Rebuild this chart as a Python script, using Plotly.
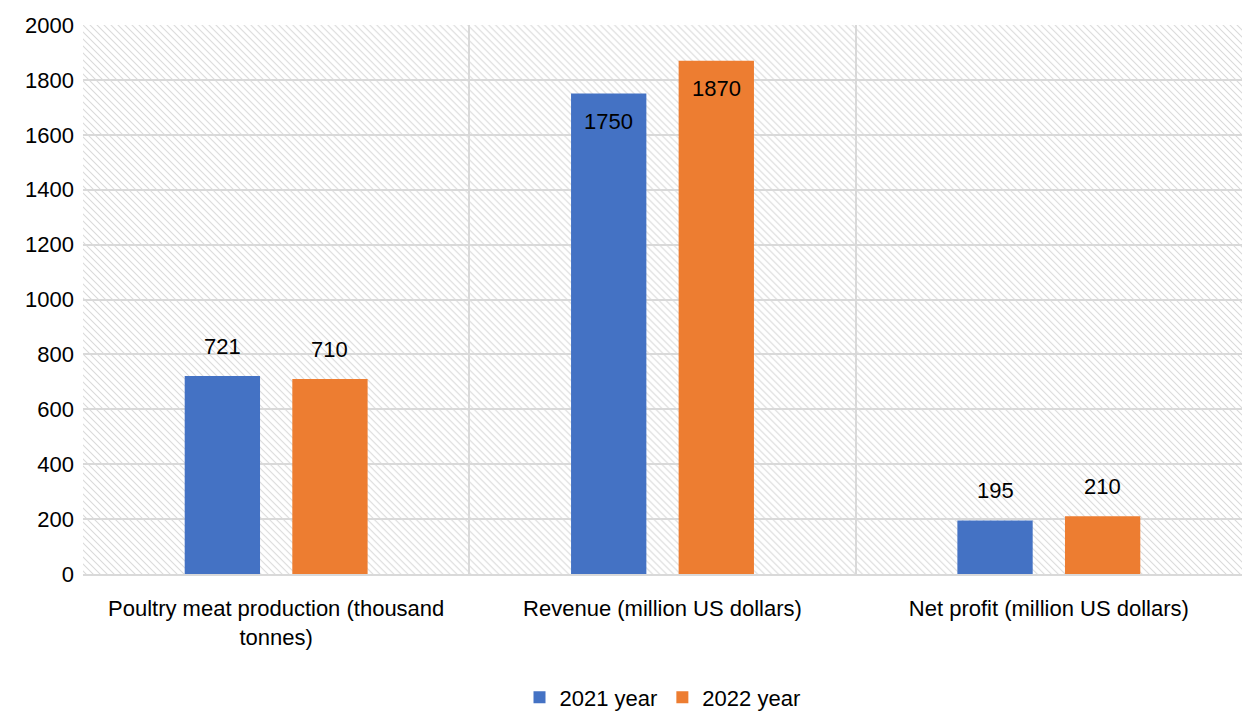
import base64
import plotly.graph_objects as go

categories = ["Poultry meat production (thousand<br>tonnes)",
              "Revenue (million US dollars)",
              "Net profit (million US dollars)"]
series_names = ["2021 year", "2022 year"]
values_2021 = [721, 1750, 195]
values_2022 = [710, 1870, 210]
label_inside_2021 = [False, True, False]
label_inside_2022 = [False, True, False]
y_ticks = list(range(0, 2001, 200))

BLUE = "#4472C4"
ORANGE = "#ED7D31"
GRID = "#d9d9d9"
FONT = "Liberation Sans Narrow, Arial Narrow, Liberation Sans, Arial, sans-serif"
FS = 22

W, H = 1243, 717
ML, MR, MT, MB = 83, 1, 25, 143
BARGAP, BARGROUPGAP = 0.443, 0.30

fig = go.Figure()
for name, vals, col in [(series_names[0], values_2021, BLUE),
                        (series_names[1], values_2022, ORANGE)]:
    fig.add_trace(go.Bar(name=name, x=categories, y=vals, marker_color=col,
                         marker_line_width=0, hoverinfo="x+y+name"))

# value labels, placed relative to each bar
cat_px = (W - ML - MR) / len(categories)
offset_px = (1 - BARGAP) * cat_px / 4
annotations = []
for sign, vals, inside in [(-1, values_2021, label_inside_2021),
                           (1, values_2022, label_inside_2022)]:
    for c, v, ins in zip(categories, vals, inside):
        annotations.append(dict(x=c, y=v, xref="x", yref="y", text=str(v),
                                showarrow=False, xanchor="center", yanchor="middle",
                                xshift=sign * offset_px, yshift=-28 if ins else 30,
                                font=dict(family=FONT, size=FS, color="black")))

# diagonal hatch background of the plot area
svg = ('<svg xmlns="http://www.w3.org/2000/svg" width="1160" height="549" '
       'viewBox="0 0 1160 549" preserveAspectRatio="none">'
       '<defs><pattern id="h" width="7" height="7" patternUnits="userSpaceOnUse">'
       '<path d="M-1,-1 L8,8 M-1,6 L1,8 M6,-1 L8,1" stroke="#dadada" stroke-width="1.1"/>'
       '</pattern></defs><rect width="1160" height="549" fill="url(#h)"/></svg>')
src = "data:image/svg+xml;base64," + base64.b64encode(svg.encode()).decode()

fig.update_layout(
    width=W, height=H,
    margin=dict(l=ML, r=MR, t=MT, b=MB, autoexpand=False),
    plot_bgcolor="white", paper_bgcolor="white",
    barmode="group", bargap=BARGAP, bargroupgap=BARGROUPGAP,
    font=dict(family=FONT, size=FS, color="black"),
    annotations=annotations,
    images=[dict(source=src, xref="paper", yref="paper", x=0, y=1, sizex=1, sizey=1,
                 xanchor="left", yanchor="top", sizing="stretch", layer="below")],
    legend=dict(orientation="h", x=0.5, xanchor="center", y=-0.225, yanchor="middle",
                font=dict(family=FONT, size=FS, color="black"), itemwidth=30,
                traceorder="normal"),
    showlegend=True,
)
fig.update_xaxes(type="category", tickson="boundaries", showgrid=True, gridcolor=GRID,
                 gridwidth=1.5, ticks="", showline=True, linecolor=GRID, linewidth=1.5,
                 tickangle=0, automargin=False, ticklabelstandoff=14,
                 tickfont=dict(family=FONT, size=FS, color="black"), range=[-0.5, 2.5])
fig.update_yaxes(range=[0, 2000], tickvals=y_ticks, showgrid=True, gridcolor=GRID,
                 gridwidth=1.5, zeroline=False, showline=False, ticks="",
                 ticklabelstandoff=8, automargin=False,
                 tickfont=dict(family=FONT, size=FS, color="black"))

fig.write_html("out.html")
